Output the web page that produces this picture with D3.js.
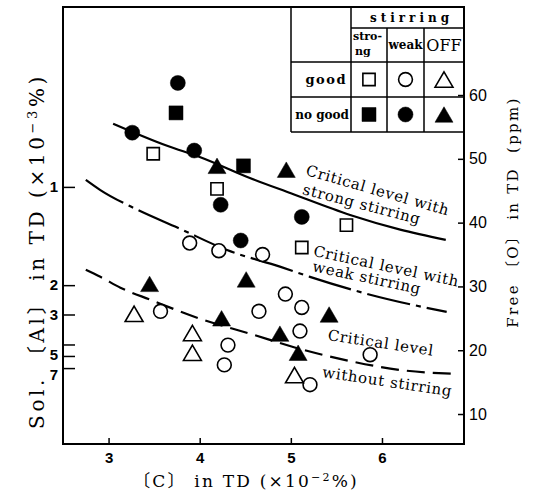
<!DOCTYPE html>
<html>
<head>
<meta charset="utf-8">
<script src="https://cdn.jsdelivr.net/npm/d3@7"></script>
<style>
  body { margin: 0; background: #fff; }
  svg { display: block; }
</style>
</head>
<body>
<div id="chart"></div>
<script>
// [C] in TD (x10^-2 %) vs free [O] in TD (ppm)
var goodStrongC = [3.49, 4.19, 5.61, 5.12];
var goodStrongO = [50.8, 45.3, 39.6, 36.1];

var goodWeakC = [3.89, 4.21, 4.69, 3.57, 4.65, 4.94, 5.12, 5.10, 4.31, 4.27, 5.87, 5.21];
var goodWeakO = [36.8, 35.6, 35.0, 26.1, 26.1, 28.8, 26.7, 23.0, 20.8, 17.7, 19.3, 14.6];

var goodOffC = [3.28, 3.92, 3.92, 5.04];
var goodOffO = [25.7, 22.7, 19.6, 16.1];

var noGoodStrongC = [3.74, 4.48];
var noGoodStrongO = [57.2, 48.9];

var noGoodWeakC = [3.76, 3.26, 3.94, 4.23, 4.45, 5.12];
var noGoodWeakO = [61.9, 54.1, 51.3, 42.8, 37.2, 40.9];

var noGoodOffC = [4.19, 4.95, 3.45, 4.51, 4.24, 5.42, 4.88, 5.08];
var noGoodOffO = [48.9, 48.3, 30.4, 31.1, 25.0, 25.6, 22.6, 19.6];

// critical level curves
var strongLineC = [3.05, 3.65, 4.0, 4.55, 5.0, 5.65, 6.2, 6.7];
var strongLineO = [55.5, 52.0, 50.3, 47.0, 44.6, 41.2, 38.9, 37.3];
var weakLineC = [2.75, 2.91, 3.32, 3.76, 4.30, 4.88, 5.21, 5.87, 6.71];
var weakLineO = [46.7, 45.1, 42.0, 39.2, 35.7, 33.1, 31.5, 28.7, 26.0];
var offLineC = [2.75, 2.91, 3.13, 3.46, 4.01, 4.55, 5.10, 5.65, 6.20, 6.80];
var offLineO = [32.6, 31.5, 29.8, 27.9, 24.9, 22.6, 20.2, 18.3, 16.9, 16.3];

// axis ticks
var cTicks = [3, 4, 5, 6];
var oTicks = [10, 20, 30, 40, 50, 60];
// Sol.[Al] ticks and the free [O] level each one sits at on the right scale
var alTicks = [1, 2, 3, 4, 5, 7];
var alTickO = [45.6, 30.2, 25.6, 20.9, 19.1, 17.2];

var W = 533, H = 501;
var pL = 63, pT = 7, pR = 464, pB = 444;
var serif = "'DejaVu Serif', 'Noto Sans CJK JP', serif";
var sans = "'Liberation Sans', Arial, sans-serif";

var svg = d3.select("#chart").append("svg")
    .attr("width", W)
    .attr("height", H);

var x = d3.scaleLinear().domain([2.5, 6.9]).range([pL, pR]);
var yO = d3.scaleLinear().domain([5.3, 73.8]).range([pB, pT]);
var yAl = d3.scaleLinear().domain(alTicks).range(alTickO.map(function(o) { return yO(o); }));

function zip(a, b) {
  return a.map(function(v, i) { return [v, b[i]]; });
}

// bottom axis
var xAxis = svg.append("g")
    .attr("transform", "translate(0," + pB + ")")
    .call(d3.axisBottom(x).tickValues(cTicks).tickSize(-6).tickPadding(8).tickFormat(d3.format("d")));
xAxis.select(".domain").remove();
xAxis.selectAll("line").attr("stroke-width", 1.5);
xAxis.selectAll("text")
    .style("font-family", sans).style("font-weight", "bold").style("font-size", "15px");

// left axis (Sol. Al)
var lAxis = svg.append("g")
    .attr("transform", "translate(" + pL + ",0)")
    .call(d3.axisLeft(yAl).tickValues(alTicks).tickSize(-12).tickPadding(5)
      .tickFormat(function(d) { return d === 4 ? "" : d; }));
lAxis.select(".domain").remove();
lAxis.selectAll("line").attr("stroke-width", 1.5);
lAxis.selectAll("text")
    .style("font-family", sans).style("font-weight", "bold").style("font-size", "15px")
    .attr("dy", function(d) { return d === 7 ? "0.75em" : (d === 5 ? "0.25em" : "0.32em"); });

// right axis (free O)
var rAxis = svg.append("g")
    .attr("transform", "translate(" + pR + ",0)")
    .call(d3.axisRight(yO).tickValues(oTicks).tickSize(-6).tickPadding(5));
rAxis.select(".domain").remove();
rAxis.selectAll("line").attr("stroke-width", 1.5);
rAxis.selectAll("text")
    .style("font-family", sans).style("font-size", "16px");

// frame
svg.append("rect")
    .attr("x", pL).attr("y", pT)
    .attr("width", pR - pL).attr("height", pB - pT)
    .attr("fill", "none").attr("stroke", "#000").attr("stroke-width", 2);

// curves
var line = d3.line()
    .x(function(d) { return x(d[0]); })
    .y(function(d) { return yO(d[1]); })
    .curve(d3.curveMonotoneX);

svg.append("path").datum(zip(strongLineC, strongLineO))
    .attr("d", line).attr("fill", "none").attr("stroke", "#000").attr("stroke-width", 2.2);
svg.append("path").datum(zip(weakLineC, weakLineO))
    .attr("d", line).attr("fill", "none").attr("stroke", "#000").attr("stroke-width", 2.2)
    .attr("stroke-dasharray", "44,6,5,6");
svg.append("path").datum(zip(offLineC, offLineO))
    .attr("d", line).attr("fill", "none").attr("stroke", "#000").attr("stroke-width", 2.2)
    .attr("stroke-dasharray", "18,8");

// markers
var triangle = {
  draw: function(ctx, size) {
    var w = Math.sqrt(size), h = w * 0.86;
    ctx.moveTo(0, -h / 2);
    ctx.lineTo(w / 2, h / 2);
    ctx.lineTo(-w / 2, h / 2);
    ctx.closePath();
  }
};
var markerTypes = {
  square: function(filled) { return d3.symbol().type(d3.symbolSquare).size(filled ? 196 : 150)(); },
  circle: function(filled) { return d3.symbol().type(d3.symbolCircle).size(filled ? 177 : 150)(); },
  triangle: function(filled) { return d3.symbol().type(triangle).size(filled ? 324 : 320)(); }
};

function drawMarks(cs, os, kind, filled) {
  svg.append("g").selectAll("path")
    .data(zip(cs, os))
    .enter()
    .append("path")
    .attr("transform", function(d) { return "translate(" + x(d[0]) + "," + yO(d[1]) + ")"; })
    .attr("d", markerTypes[kind](filled))
    .attr("fill", filled ? "#000" : "#fff")
    .attr("stroke", "#000")
    .attr("stroke-width", filled ? 0.5 : 1.6);
}

drawMarks(goodStrongC, goodStrongO, "square", false);
drawMarks(goodWeakC, goodWeakO, "circle", false);
drawMarks(goodOffC, goodOffO, "triangle", false);
drawMarks(noGoodStrongC, noGoodStrongO, "square", true);
drawMarks(noGoodWeakC, noGoodWeakO, "circle", true);
drawMarks(noGoodOffC, noGoodOffO, "triangle", true);

// curve labels
function curveLabel(c, o, angle, txt) {
  svg.append("text")
    .attr("transform", "translate(" + x(c) + "," + yO(o) + ") rotate(" + angle + ")")
    .style("font-family", serif).style("font-size", "15px").style("letter-spacing", "0.7px")
    .text(txt);
}
curveLabel(5.155, 47.5, 16, "Critical level with");
curveLabel(5.12, 44.5, 14.5, "strong stirring");
curveLabel(5.24, 34.8, 12, "Critical level with");
curveLabel(5.23, 32.4, 12, "weak stirring");
curveLabel(5.40, 21.6, 8.5, "Critical level");
curveLabel(5.34, 15.8, 8.5, "without stirring");

// legend table
var tb = svg.append("g");
var tx0 = 291, tx1 = 351, tx2 = 387, tx3 = 424, tx4 = pR;
var ty0 = pT, ty1 = 28, ty2 = 62, ty3 = 97, ty4 = 132;
var tl = [
  [tx0, ty0, tx0, ty4], [tx1, ty0, tx1, ty4], [tx2, ty1, tx2, ty4], [tx3, ty1, tx3, ty4],
  [tx1, ty1, tx4, ty1], [tx0, ty2, tx4, ty2], [tx0, ty3, tx4, ty3], [tx0, ty4, tx4, ty4]
];
tb.selectAll("line").data(tl).enter().append("line")
    .attr("x1", function(d) { return d[0]; }).attr("y1", function(d) { return d[1]; })
    .attr("x2", function(d) { return d[2]; }).attr("y2", function(d) { return d[3]; })
    .attr("stroke", "#000").attr("stroke-width", 1.5);

tb.append("text").attr("x", (tx1 + tx4) / 2 + 4).attr("y", 22)
    .attr("text-anchor", "middle")
    .style("font-family", serif).style("font-weight", "bold").style("font-size", "12px")
    .style("letter-spacing", "4px").text("stirring");
tb.append("text").attr("x", tx1 + 2).attr("y", 40)
    .style("font-family", serif).style("font-weight", "bold").style("font-size", "11px")
    .text("stro-");
tb.append("text").attr("x", tx1 + 4).attr("y", 55)
    .style("font-family", serif).style("font-weight", "bold").style("font-size", "11px")
    .text("ng");
tb.append("text").attr("x", (tx2 + tx3) / 2).attr("y", 49)
    .attr("text-anchor", "middle")
    .style("font-family", serif).style("font-weight", "bold").style("font-size", "12px")
    .text("weak");
tb.append("text").attr("x", (tx3 + tx4) / 2).attr("y", 51)
    .attr("text-anchor", "middle")
    .style("font-family", serif).style("font-size", "16px")
    .text("OFF");
tb.append("text").attr("x", tx1 - 4).attr("y", 84)
    .attr("text-anchor", "end")
    .style("font-family", serif).style("font-weight", "bold").style("font-size", "13px")
    .style("letter-spacing", "1.5px").text("good");
tb.append("text").attr("x", tx1 - 2).attr("y", 119)
    .attr("text-anchor", "end")
    .style("font-family", serif).style("font-weight", "bold").style("font-size", "12px")
    .text("no good");

var legendCells = [
  ["square", false, 0, 0], ["circle", false, 1, 0], ["triangle", false, 2, 0],
  ["square", true, 0, 1], ["circle", true, 1, 1], ["triangle", true, 2, 1]
];
var colMid = [(tx1 + tx2) / 2, (tx2 + tx3) / 2, (tx3 + tx4) / 2];
var rowMid = [(ty2 + ty3) / 2, (ty3 + ty4) / 2];
tb.selectAll("path").data(legendCells).enter().append("path")
    .attr("transform", function(d) { return "translate(" + colMid[d[2]] + "," + rowMid[d[3]] + ")"; })
    .attr("d", function(d) { return markerTypes[d[0]](d[1]); })
    .attr("fill", function(d) { return d[1] ? "#000" : "#fff"; })
    .attr("stroke", "#000")
    .attr("stroke-width", function(d) { return d[1] ? 0.5 : 1.6; });

// axis titles
var yl = svg.append("text")
    .attr("transform", "translate(44,251) rotate(-90)")
    .attr("text-anchor", "middle")
    .style("font-family", serif).style("font-size", "20px").style("letter-spacing", "3.6px");
yl.append("tspan").text("Sol. 〔Al〕 in TD (×10");
yl.append("tspan").attr("dy", -7).style("font-size", "13px").text("−3");
yl.append("tspan").attr("dy", 7).text("%)");

var xl = svg.append("text")
    .attr("x", 246).attr("y", 487)
    .attr("text-anchor", "middle")
    .style("font-family", serif).style("font-size", "17px").style("letter-spacing", "2.2px");
xl.append("tspan").text("〔C〕  in TD (×10");
xl.append("tspan").attr("dy", -6).style("font-size", "11px").text("−2");
xl.append("tspan").attr("dy", 6).text("%)");

svg.append("text")
    .attr("transform", "translate(518,212) rotate(-90)")
    .attr("text-anchor", "middle")
    .style("font-family", serif).style("font-size", "15px").style("letter-spacing", "2.3px")
    .style("white-space", "pre")
    .text("Free 〔O〕 in TD  (ppm)");
</script>
</body>
</html>
